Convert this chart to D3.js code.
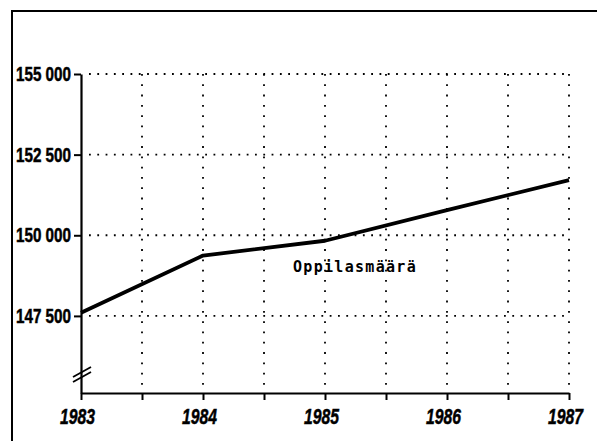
<!DOCTYPE html>
<html>
<head>
<meta charset="utf-8">
<script src="https://cdn.jsdelivr.net/npm/d3@7"></script>
<style>
  body { margin: 0; background: #fff; }
</style>
</head>
<body>
<svg id="drawing_region"></svg>
<script>
const years = [1983, 1984, 1985, 1986, 1987];
const pupils = [147600, 149370, 149830, 150780, 151710];
const y_ticks = [147500, 150000, 152500, 155000];
const x_ticks = [1983, 1983.5, 1984, 1984.5, 1985, 1985.5, 1986, 1986.5, 1987];
const y_domain = [145110, 155000];
const series_label = "Oppilasmäärä";

const data = years.map( (y, i) => ({ x: y, y: pupils[i] }) );

let config = {
  parent: '#drawing_region',
  width: 597,
  height: 441,
  margin: {top:74, right:28, bottom:48, left:81},
};

const fmt = d3.formatLocale({decimal: ",", thousands: " ", grouping: [3], currency: ["", ""]}).format(",");

const svg = d3.select(config.parent)
  .attr('width', config.width)
  .attr('height', config.height);

// frame (top and left edges, the rest is cut off)
svg.append('path')
  .attr('d', `M12,${config.height} L12,11 L${config.width},11`)
  .attr('fill', 'none')
  .attr('stroke', '#000')
  .attr('stroke-width', 2);

const chart = svg.append('g')
  .attr('transform', `translate(${config.margin.left}, ${config.margin.top})`);

const chart_width = config.width - config.margin.left - config.margin.right;
const chart_height = config.height - config.margin.top - config.margin.bottom;

const x_scale = d3.scaleLinear()
  .domain( d3.extent(years) )
  .range( [0, chart_width] );

const y_scale = d3.scaleLinear()
  .domain( y_domain )
  .range( [chart_height, 0] );

// dotted grid
chart.append('g')
  .selectAll('line')
  .data(y_ticks)
  .join('line')
  .attr('x1', 8)
  .attr('x2', chart_width)
  .attr('y1', d => y_scale(d))
  .attr('y2', d => y_scale(d))
  .attr('stroke', '#000')
  .attr('stroke-width', 1.8)
  .attr('stroke-dasharray', '1.8 6.5');

chart.append('g')
  .selectAll('line')
  .data(x_ticks.filter(d => d > years[0]))
  .join('line')
  .attr('x1', d => x_scale(d))
  .attr('x2', d => x_scale(d))
  .attr('y1', y_scale(y_ticks[y_ticks.length - 1]))
  .attr('y2', chart_height - 8)
  .attr('stroke', '#000')
  .attr('stroke-width', 1.8)
  .attr('stroke-dasharray', '1.8 8.5');

// axes
const x_axis = d3.axisBottom(x_scale)
  .tickValues(x_ticks)
  .tickSize(7).tickSizeOuter(0).tickPadding(8)
  .tickFormat(d => Number.isInteger(d) ? d : '');

const y_axis = d3.axisLeft(y_scale)
  .tickValues(y_ticks)
  .tickSize(7).tickSizeOuter(0).tickPadding(3)
  .tickFormat(fmt);

const xaxis_group = chart.append('g')
  .attr('transform', `translate(0, ${chart_height})`)
  .call(x_axis);

const yaxis_group = chart.append('g')
  .call(y_axis);

[xaxis_group, yaxis_group].forEach(g => {
  g.select('.domain').attr('stroke-width', 2.2);
  g.selectAll('.tick line').attr('stroke-width', 2);
});

xaxis_group.selectAll('text')
  .attr('font-family', '"Liberation Sans", Arial, sans-serif')
  .attr('font-weight', 'bold')
  .attr('font-style', 'italic')
  .attr('font-size', 22)
  .attr('dx', -4)
  .attr('fill', '#000')
  .attr('stroke', '#000')
  .attr('stroke-width', 0.5)
  .filter(function() { return this.textContent !== ''; })
  .attr('textLength', 35)
  .attr('lengthAdjust', 'spacingAndGlyphs');

yaxis_group.selectAll('text')
  .attr('font-family', '"Liberation Sans", Arial, sans-serif')
  .attr('font-weight', 'bold')
  .attr('font-size', 20)
  .attr('fill', '#000')
  .attr('stroke', '#000')
  .attr('stroke-width', 0.5)
  .attr('textLength', 55)
  .attr('lengthAdjust', 'spacingAndGlyphs');

// axis break mark
const brk = chart_height - 20;
chart.append('g')
  .selectAll('line')
  .data([0, 5])
  .join('line')
  .attr('x1', -8)
  .attr('x2', 10)
  .attr('y1', d => brk + 4 + d)
  .attr('y2', d => brk - 6 + d)
  .attr('stroke', '#000')
  .attr('stroke-width', 1.8);

// line
const line = d3.line()
  .x(d => x_scale(d.x))
  .y(d => y_scale(d.y));

chart.append('path')
  .attr('d', line(data))
  .attr('fill', 'none')
  .attr('stroke', '#000')
  .attr('stroke-width', 3.8)
  .attr('stroke-linejoin', 'round');

chart.append('text')
  .attr('x', x_scale(1985) + 30)
  .attr('y', y_scale(148850))
  .attr('text-anchor', 'middle')
  .attr('font-family', '"DejaVu Sans Mono", monospace')
  .attr('font-weight', 'bold')
  .attr('font-size', 15)
  .attr('letter-spacing', 1.3)
  .attr('fill', '#000')
  .text(series_label);
</script>
</body>
</html>
